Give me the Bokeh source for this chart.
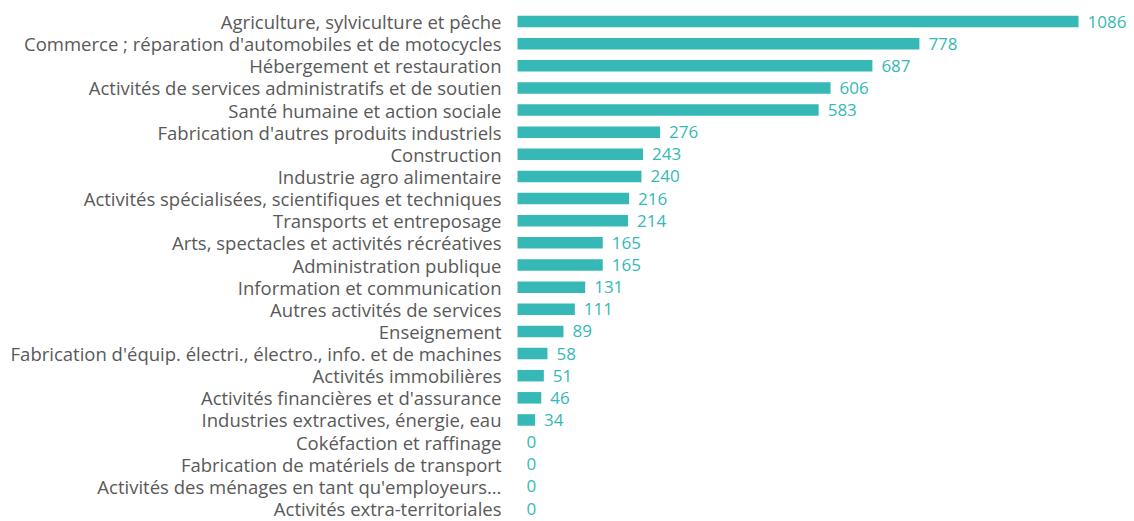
from bokeh.plotting import figure
from bokeh.models import Range1d, ColumnDataSource
from bokeh.core.properties import value
from bokeh.embed import file_html
from bokeh.resources import INLINE

categories = [
    "Agriculture, sylviculture et pêche",
    "Commerce ; réparation d'automobiles et de motocycles",
    "Hébergement et restauration",
    "Activités de services administratifs et de soutien",
    "Santé humaine et action sociale",
    "Fabrication d'autres produits industriels",
    "Construction",
    "Industrie agro alimentaire",
    "Activités spécialisées, scientifiques et techniques",
    "Transports et entreposage",
    "Arts, spectacles et activités récréatives",
    "Administration publique",
    "Information et communication",
    "Autres activités de services",
    "Enseignement",
    "Fabrication d'équip. électri., électro., info. et de machines",
    "Activités immobilières",
    "Activités financières et d'assurance",
    "Industries extractives, énergie, eau",
    "Cokéfaction et raffinage",
    "Fabrication de matériels de transport",
    "Activités des ménages en tant qu'employeurs…",
    "Activités extra-territoriales",
]
values = [1086, 778, 687, 606, 583, 276, 243, 240, 216, 214, 165, 165, 131,
          111, 89, 58, 51, 46, 34, 0, 0, 0, 0]

n = len(categories)
ypos = [n - 1 - i for i in range(n)]
src = ColumnDataSource(dict(cat=categories, val=values, y=ypos,
                            lbl=[str(v) for v in values],
                            zero=[0] * n))

W, H = 1134, 521
x0_px = 517.0
scale = (1078.0 - 517.0) / 1086.0
top_c, bot_c = 21.0, 508.0
row = (bot_c - top_c) / (n - 1)

p = figure(width=W, height=H, output_backend="svg", toolbar_location=None,
           min_border=0, min_border_left=0, min_border_right=0,
           min_border_top=0, min_border_bottom=0,
           x_range=Range1d(-x0_px / scale, (W - x0_px) / scale),
           y_range=Range1d(-(H - bot_c) / row, (n - 1) + top_c / row))
p.outline_line_color = None
p.xaxis.visible = False
p.yaxis.visible = False
p.xgrid.visible = False
p.ygrid.visible = False
p.background_fill_color = "white"
p.border_fill_color = "white"

teal = "#36B8B6"
p.hbar(y="y", left=0, right="val", height=0.52, source=src,
       fill_color=teal, line_color=None)

p.text(x="zero", y="y", text="cat", source=src, x_offset=-16,
       text_align="right", text_baseline="middle",
       text_font=value("Open Sans"), text_font_size="18.5px", text_color="#595959")

p.text(x="val", y="y", text="lbl", source=src, x_offset=9,
       text_align="left", text_baseline="middle",
       text_font=value("Open Sans"), text_font_size="17px", text_color=teal)

open("out.html", "w").write(file_html(p, INLINE))
